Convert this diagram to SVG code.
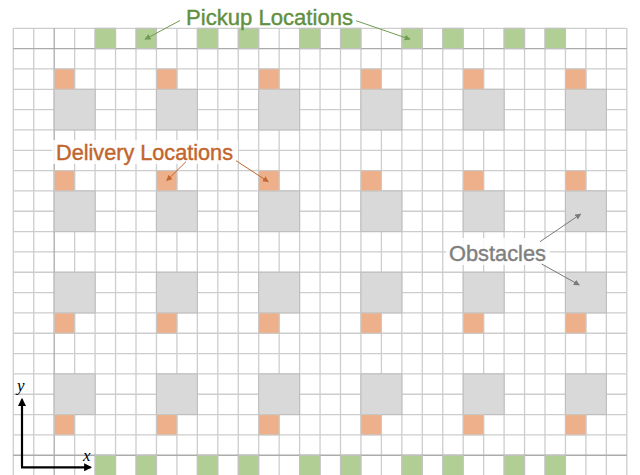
<svg xmlns="http://www.w3.org/2000/svg" width="640" height="475" viewBox="0 0 640 475">
<style>
.grid{stroke:#cdcdcd;stroke-width:1.3;fill:none}
.gridd{stroke:#ababab;stroke-width:1.3;fill:none}
.pick{fill:#b1cf95;stroke:#c2c2c2;stroke-width:1}
.deliv{fill:#edb08a;stroke:#c8c8c8;stroke-width:1}
.obst{fill:#d9d9d9;stroke:#bdbdbd;stroke-width:1}
.lbl{font-family:"Liberation Sans",Arial,sans-serif;font-size:21.5px;stroke-width:0.4}
.axl{font-family:"Liberation Serif","Times New Roman",serif;font-style:italic;font-size:17px;fill:#000}
.bg{fill:#fff;fill-opacity:0.85}
</style>
<defs>
<marker id="ag" viewBox="0 0 10 10" refX="9" refY="5" markerWidth="6" markerHeight="6" orient="auto" markerUnits="userSpaceOnUse"><path d="M0,0 L10,5 L0,10 z" fill="#6f9a52"/></marker>
<marker id="ao" viewBox="0 0 10 10" refX="9" refY="5" markerWidth="6" markerHeight="6" orient="auto" markerUnits="userSpaceOnUse"><path d="M0,0 L10,5 L0,10 z" fill="#c0682f"/></marker>
<marker id="ay" viewBox="0 0 10 10" refX="9" refY="5" markerWidth="6" markerHeight="6" orient="auto" markerUnits="userSpaceOnUse"><path d="M0,0 L10,5 L0,10 z" fill="#7a7a7a"/></marker>
<marker id="ak" viewBox="0 0 10 10" refX="8" refY="5" markerWidth="8" markerHeight="8" orient="auto" markerUnits="userSpaceOnUse"><path d="M0,0 L10,5 L0,10 z" fill="#000"/></marker>
</defs>
<rect width="640" height="475" fill="#fff"/>
<g id="grid">
<path class="grid" d="M13.3 28.3V476M33.75 28.3V476M74.65 28.3V476M95.1 28.3V476M115.55 28.3V476M136 28.3V476M156.45 28.3V476M176.9 28.3V476M197.35 28.3V476M217.8 28.3V476M238.25 28.3V476M258.7 28.3V476M279.15 28.3V476M299.6 28.3V476M320.05 28.3V476M340.5 28.3V476M360.95 28.3V476M381.4 28.3V476M401.85 28.3V476M422.3 28.3V476M442.75 28.3V476M463.2 28.3V476M483.65 28.3V476M504.1 28.3V476M524.55 28.3V476M545 28.3V476M565.45 28.3V476M585.9 28.3V476M606.35 28.3V476M626.8 28.3V476"/>
<path class="grid" d="M13.3 28.3H626.8M13.3 68.96H626.8M13.3 89.29H626.8M13.3 109.62H626.8M13.3 129.95H626.8M13.3 150.28H626.8M13.3 170.61H626.8M13.3 190.94H626.8M13.3 211.27H626.8M13.3 231.6H626.8M13.3 251.93H626.8M13.3 272.26H626.8M13.3 292.59H626.8M13.3 312.92H626.8M13.3 333.25H626.8M13.3 353.58H626.8M13.3 373.91H626.8M13.3 394.24H626.8M13.3 414.57H626.8M13.3 434.9H626.8"/>
<path class="gridd" d="M54.2 28.3V476M13.3 48.63H626.8M13.3 455.23H626.8"/>
</g>
<g id="pickup">
<rect class="pick" x="95.1" y="28.3" width="20.45" height="20.33"/>
<rect class="pick" x="136" y="28.3" width="20.45" height="20.33"/>
<rect class="pick" x="197.35" y="28.3" width="20.45" height="20.33"/>
<rect class="pick" x="238.25" y="28.3" width="20.45" height="20.33"/>
<rect class="pick" x="299.6" y="28.3" width="20.45" height="20.33"/>
<rect class="pick" x="340.5" y="28.3" width="20.45" height="20.33"/>
<rect class="pick" x="401.85" y="28.3" width="20.45" height="20.33"/>
<rect class="pick" x="442.75" y="28.3" width="20.45" height="20.33"/>
<rect class="pick" x="504.1" y="28.3" width="20.45" height="20.33"/>
<rect class="pick" x="545" y="28.3" width="20.45" height="20.33"/>
<rect class="pick" x="95.1" y="455.23" width="20.45" height="20.33"/>
<rect class="pick" x="136" y="455.23" width="20.45" height="20.33"/>
<rect class="pick" x="197.35" y="455.23" width="20.45" height="20.33"/>
<rect class="pick" x="238.25" y="455.23" width="20.45" height="20.33"/>
<rect class="pick" x="299.6" y="455.23" width="20.45" height="20.33"/>
<rect class="pick" x="340.5" y="455.23" width="20.45" height="20.33"/>
<rect class="pick" x="401.85" y="455.23" width="20.45" height="20.33"/>
<rect class="pick" x="442.75" y="455.23" width="20.45" height="20.33"/>
<rect class="pick" x="504.1" y="455.23" width="20.45" height="20.33"/>
<rect class="pick" x="545" y="455.23" width="20.45" height="20.33"/>
</g>
<g id="obstacles">
<rect class="obst" x="54.2" y="89.29" width="40.9" height="40.66"/>
<rect class="obst" x="156.45" y="89.29" width="40.9" height="40.66"/>
<rect class="obst" x="258.7" y="89.29" width="40.9" height="40.66"/>
<rect class="obst" x="360.95" y="89.29" width="40.9" height="40.66"/>
<rect class="obst" x="463.2" y="89.29" width="40.9" height="40.66"/>
<rect class="obst" x="565.45" y="89.29" width="40.9" height="40.66"/>
<rect class="obst" x="54.2" y="190.94" width="40.9" height="40.66"/>
<rect class="obst" x="156.45" y="190.94" width="40.9" height="40.66"/>
<rect class="obst" x="258.7" y="190.94" width="40.9" height="40.66"/>
<rect class="obst" x="360.95" y="190.94" width="40.9" height="40.66"/>
<rect class="obst" x="463.2" y="190.94" width="40.9" height="40.66"/>
<rect class="obst" x="565.45" y="190.94" width="40.9" height="40.66"/>
<rect class="obst" x="54.2" y="272.26" width="40.9" height="40.66"/>
<rect class="obst" x="156.45" y="272.26" width="40.9" height="40.66"/>
<rect class="obst" x="258.7" y="272.26" width="40.9" height="40.66"/>
<rect class="obst" x="360.95" y="272.26" width="40.9" height="40.66"/>
<rect class="obst" x="463.2" y="272.26" width="40.9" height="40.66"/>
<rect class="obst" x="565.45" y="272.26" width="40.9" height="40.66"/>
<rect class="obst" x="54.2" y="373.91" width="40.9" height="40.66"/>
<rect class="obst" x="156.45" y="373.91" width="40.9" height="40.66"/>
<rect class="obst" x="258.7" y="373.91" width="40.9" height="40.66"/>
<rect class="obst" x="360.95" y="373.91" width="40.9" height="40.66"/>
<rect class="obst" x="463.2" y="373.91" width="40.9" height="40.66"/>
<rect class="obst" x="565.45" y="373.91" width="40.9" height="40.66"/>
</g>
<g id="delivery">
<rect class="deliv" x="54.2" y="68.96" width="20.45" height="20.33"/>
<rect class="deliv" x="156.45" y="68.96" width="20.45" height="20.33"/>
<rect class="deliv" x="258.7" y="68.96" width="20.45" height="20.33"/>
<rect class="deliv" x="360.95" y="68.96" width="20.45" height="20.33"/>
<rect class="deliv" x="463.2" y="68.96" width="20.45" height="20.33"/>
<rect class="deliv" x="565.45" y="68.96" width="20.45" height="20.33"/>
<rect class="deliv" x="54.2" y="170.61" width="20.45" height="20.33"/>
<rect class="deliv" x="156.45" y="170.61" width="20.45" height="20.33"/>
<rect class="deliv" x="258.7" y="170.61" width="20.45" height="20.33"/>
<rect class="deliv" x="360.95" y="170.61" width="20.45" height="20.33"/>
<rect class="deliv" x="463.2" y="170.61" width="20.45" height="20.33"/>
<rect class="deliv" x="565.45" y="170.61" width="20.45" height="20.33"/>
<rect class="deliv" x="54.2" y="312.92" width="20.45" height="20.33"/>
<rect class="deliv" x="156.45" y="312.92" width="20.45" height="20.33"/>
<rect class="deliv" x="258.7" y="312.92" width="20.45" height="20.33"/>
<rect class="deliv" x="360.95" y="312.92" width="20.45" height="20.33"/>
<rect class="deliv" x="463.2" y="312.92" width="20.45" height="20.33"/>
<rect class="deliv" x="565.45" y="312.92" width="20.45" height="20.33"/>
<rect class="deliv" x="54.2" y="414.57" width="20.45" height="20.33"/>
<rect class="deliv" x="156.45" y="414.57" width="20.45" height="20.33"/>
<rect class="deliv" x="258.7" y="414.57" width="20.45" height="20.33"/>
<rect class="deliv" x="360.95" y="414.57" width="20.45" height="20.33"/>
<rect class="deliv" x="463.2" y="414.57" width="20.45" height="20.33"/>
<rect class="deliv" x="565.45" y="414.57" width="20.45" height="20.33"/>
</g>
<g id="label-pickup">
<text class="lbl" x="186" y="25" fill="#62903f" stroke="#62903f" textLength="167" lengthAdjust="spacingAndGlyphs">Pickup Locations</text>
</g>
<g id="label-delivery">
<rect class="bg" x="52" y="140" width="186" height="24"/>
<text class="lbl" x="56" y="159.5" fill="#c2652c" stroke="#c2652c" textLength="177" lengthAdjust="spacingAndGlyphs">Delivery Locations</text>
</g>
<g id="label-obstacles">
<rect class="bg" x="446" y="238" width="104" height="27"/>
<text class="lbl" x="449" y="260.5" fill="#7f7f7f" stroke="#7f7f7f" textLength="97" lengthAdjust="spacingAndGlyphs">Obstacles</text>
</g>
<g id="connectors" fill="none" stroke-width="1">
<path d="M180 20.5L145 39.3" stroke="#6f9a52" marker-end="url(#ag)"/>
<path d="M356 20.7L410 39.3" stroke="#6f9a52" marker-end="url(#ag)"/>
<path d="M186 161.7L166.7 180.7" stroke="#c0682f" marker-end="url(#ao)"/>
<path d="M236 160.7L268.3 181.7" stroke="#c0682f" marker-end="url(#ao)"/>
<path d="M540 241.7L580.7 214" stroke="#7a7a7a" marker-end="url(#ay)"/>
<path d="M541.7 264L579.3 285" stroke="#7a7a7a" marker-end="url(#ay)"/>
</g>
<g id="axes">
<path d="M22 467.3V399.5" stroke="#000" stroke-width="2.2" fill="none" marker-end="url(#ak)"/>
<path d="M21 467.3H90.5" stroke="#000" stroke-width="2.2" fill="none" marker-end="url(#ak)"/>
<text class="axl" x="17" y="391">y</text>
<text class="axl" x="83" y="461">x</text>
</g>
</svg>
